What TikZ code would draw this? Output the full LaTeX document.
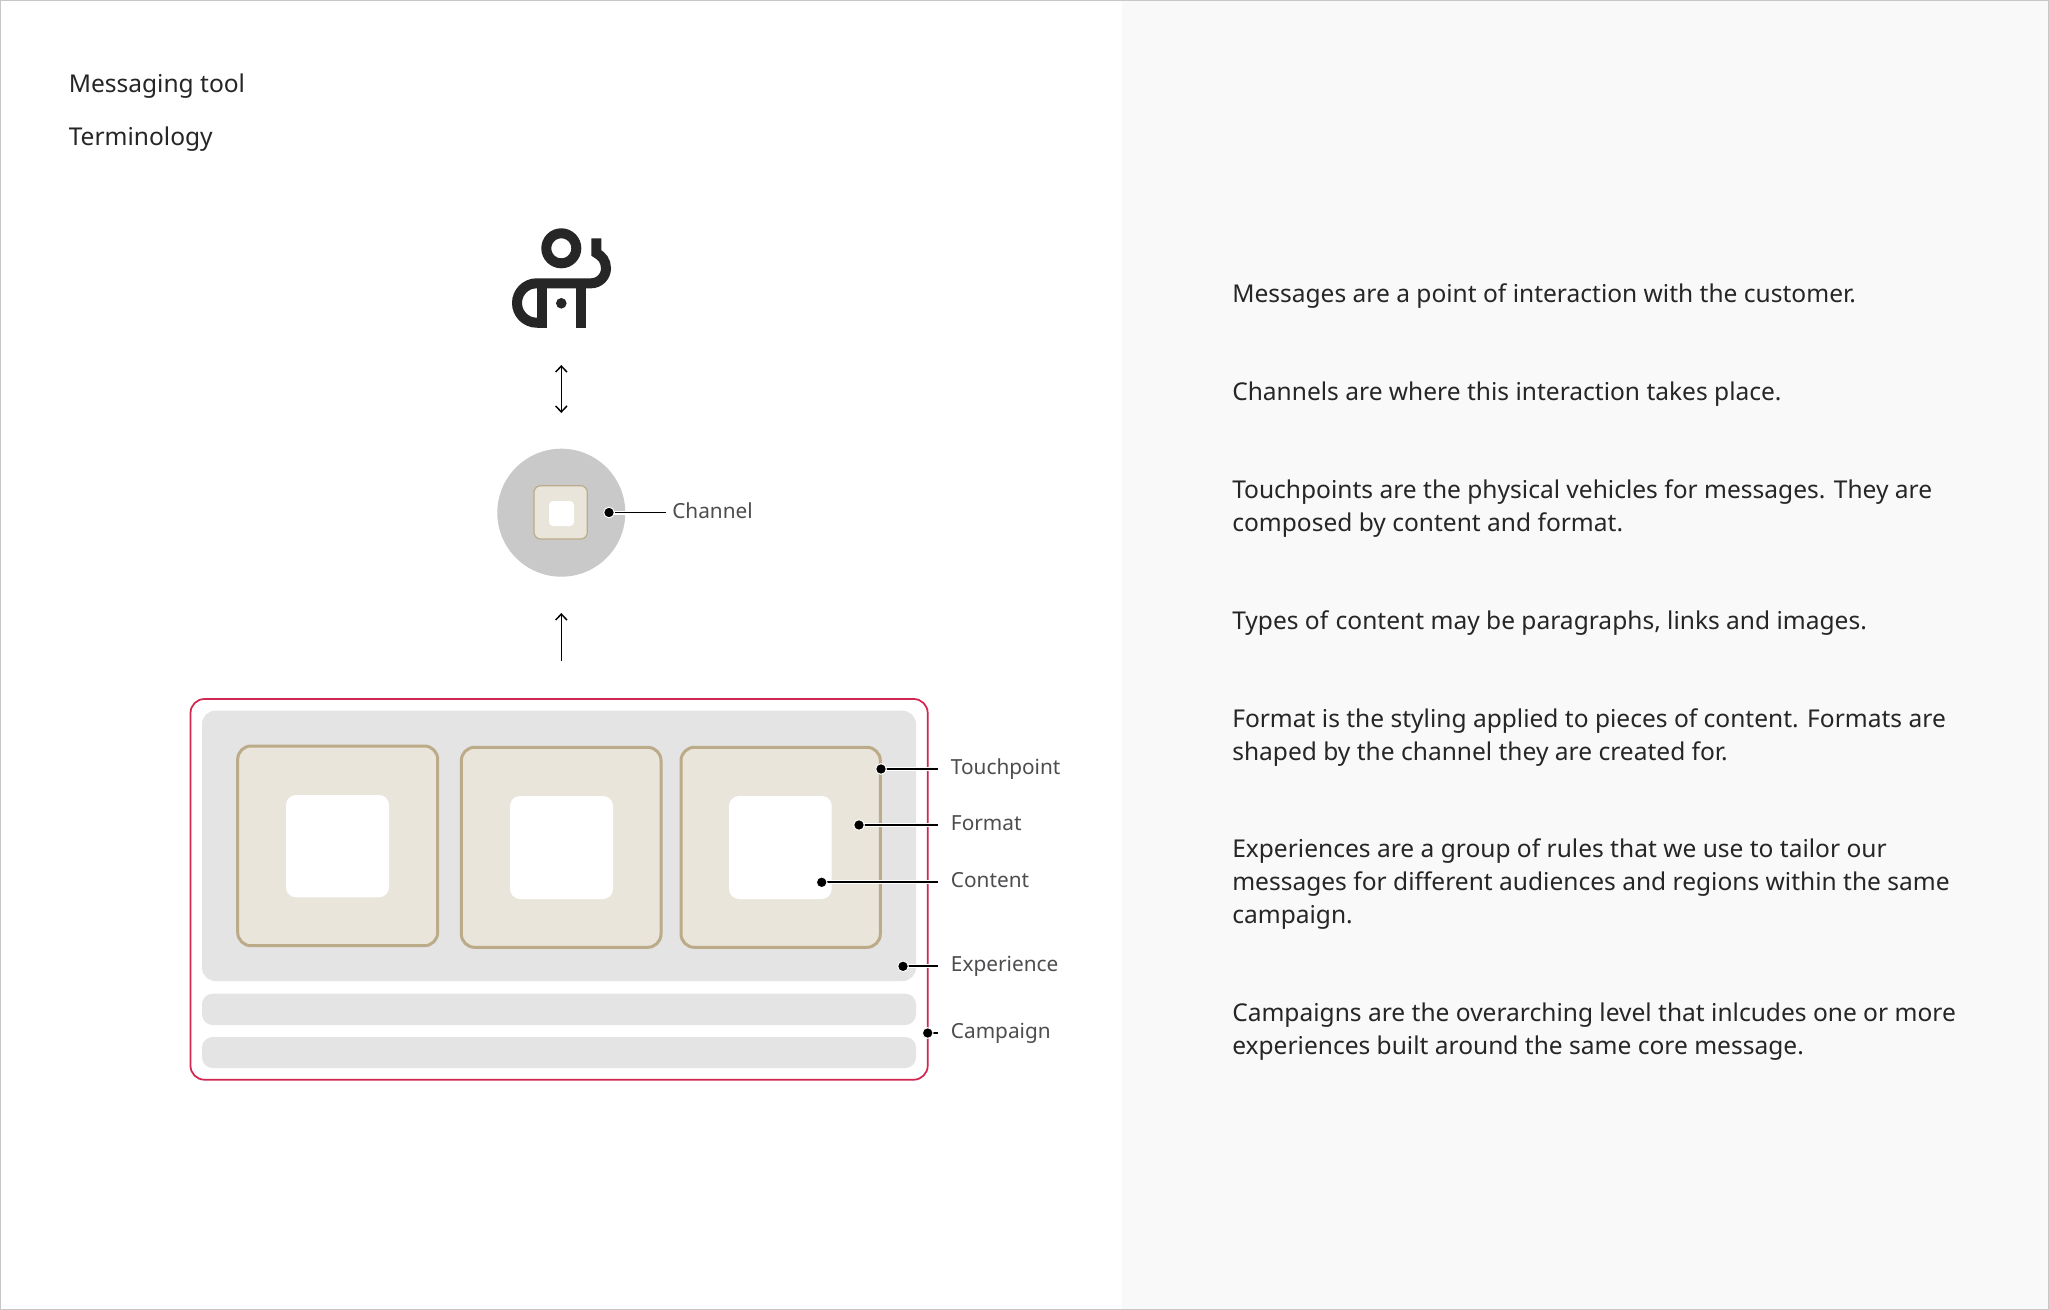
\documentclass[tikz,border=0pt]{standalone}
\usepackage{fontspec}
\setmainfont{Noto Sans}
\usetikzlibrary{arrows.meta}
\definecolor{ink}{HTML}{262626}
\definecolor{lab}{HTML}{4D4D50}
\definecolor{panel}{HTML}{F9F9F9}
\definecolor{expg}{HTML}{E4E4E5}
\definecolor{chang}{HTML}{C9C9C9}
\definecolor{tan}{HTML}{BCAB88}
\definecolor{beige}{HTML}{E9E5DB}
\definecolor{crim}{HTML}{D0264F}
\tikzset{
 x=0.75pt,y=-0.75pt,
 tpbox/.style={draw=tan,fill=beige,line width=2.25pt,rounded corners=10pt},
 contentbox/.style={fill=white,rounded corners=7.5pt},
 expbox/.style={fill=expg,rounded corners=10pt},
 lead/.style={draw=white,line width=3pt},
 leadb/.style={draw=black,line width=1.3pt},
 dothalo/.style={circle,fill=black,draw=white,line width=.75pt,minimum size=8pt,inner sep=0pt},
 calllabel/.style={anchor=base west,inner sep=0pt,font=\fontsize{15.6}{18}\selectfont\bfseries,text=lab},
 bodytext/.style={anchor=base west,inner sep=0pt,font=\fontsize{18.4}{24}\selectfont,text=ink},
 arr/.style={draw=black,line width=1.1pt},
 icon/.style={draw=ink,line width=7.5pt},
}
\newcommand{\rbox}[5][]{\path[#1] (#2,#3) rectangle (#4,#5);}
\begin{document}
\begin{tikzpicture}
\useasboundingbox (0,0) rectangle (2049,1310);
\fill[white] (0,0) rectangle (2049,1310);
\fill[panel] (1122,0) rectangle (2049,1310);
\draw[draw=black!22,line width=.75pt] (.5,.5) rectangle (2048.5,1309.5);
% header
\node[anchor=base west,inner sep=0pt,font=\fontsize{18.4}{24}\selectfont\bfseries,text=ink] (title) at (68.5,92) {Messaging tool};
\node[anchor=base west,inner sep=0pt,font=\fontsize{18.4}{24}\selectfont,text=ink] (sub) at (68.5,145) {Terminology};
% icon
\draw[icon] (561.3,248.3) circle[radius=15];
\draw[icon,line cap=butt] (596.3,238.3) -- (596.3,253) .. controls (602,256) and (606,261) .. (606,268.3) arc[start angle=0,end angle=90,radius=15] -- (536.7,283.3) arc[start angle=270,end angle=90,radius=19.7] -- (546.7,322.7);
\draw[icon] (541.7,283.3) -- (541.7,327.7);
\draw[icon] (581.3,283.3) -- (581.3,327.7);
\fill[ink] (561.3,303.3) circle[radius=5.3];
% arrows
\coordinate (a1) at (561.3,365);\coordinate (a2) at (561.3,413);
\draw[arr,{Straight Barb[length=4.5pt,width=8.5pt]}-{Straight Barb[length=4.5pt,width=8.5pt]}] (a1) -- (a2);
% channel
\node[circle,fill=chang,minimum size=96pt,inner sep=0pt] (chan) at (561.3,512.7) {};
\path[draw=tan,fill=beige,line width=.9pt,rounded corners=5pt] (534,485.7) rectangle (587.3,539);
\path[contentbox,rounded corners=3pt] (549,501) rectangle (574,526);
\coordinate (a3) at (561.3,661);\coordinate (a4) at (561.3,613);
\draw[arr,-{Straight Barb[length=4.5pt,width=8.5pt]}] (a3) -- (a4);
% campaign
\draw[draw=crim,line width=1.3pt,rounded corners=10.5pt] (190.5,699) rectangle (927.7,1079.7);
\path[expbox] (202,710.7) rectangle (916,981);
\path[expbox,rounded corners=8pt] (202,993.7) rectangle (916,1025);
\path[expbox,rounded corners=8pt] (202,1037) rectangle (916,1068);
\path[tpbox] (237.7,746) rectangle (437.7,945.7);
\path[contentbox] (286,795) rectangle (389,897.3);
\path[tpbox] (461.3,747.3) rectangle (661,947.3);
\path[contentbox] (510,796) rectangle (613,899);
\path[tpbox] (681,747.3) rectangle (880.3,947.3);
\path[contentbox] (729,796) rectangle (831.7,899);
% callouts
\newcommand{\callout}[6]{%
 \coordinate (#1s) at (#2,#3);\coordinate (#1e) at (#4,#3);
 \draw[lead] (#1s) -- (#1e);
 \draw[leadb] (#1s) -- (#1e);
 \node[dothalo] (#1d) at (#1s) {};
 \node[calllabel] (#1l) at (#5,#3+5.6) {#6};}
\callout{ch}{609}{512.5}{665.7}{672}{Channel}
\callout{tp}{881}{769}{937.7}{950.7}{Touchpoint}
\callout{fm}{859}{825}{937.7}{950.7}{Format}
\callout{ct}{821.7}{882.3}{937.7}{950.7}{Content}
\callout{ex}{903}{966.3}{937.7}{950.7}{Experience}
\callout{cp}{927.7}{1033}{937.7}{950.7}{Campaign}
% body
\node[bodytext] (m) at (1232,302) {\textbf{Messages} are a point of interaction with the customer.};
\node[bodytext] (c) at (1232,400) {\textbf{Channels} are where this interaction takes place.};
\node[bodytext] (t1) at (1232,498) {\textbf{Touchpoints} are the physical vehicles for messages. They are};
\node[bodytext] (t2) at (1232,531) {composed by content and format.};
\node[bodytext] (ty) at (1232,629) {Types of \textbf{content} may be paragraphs, links and images.};
\node[bodytext] (f1) at (1232,727) {\textbf{Format} is the styling applied to pieces of content. Formats are};
\node[bodytext] (f2) at (1232,760) {shaped by the channel they are created for.};
\node[bodytext] (e1) at (1232,857) {\textbf{Experiences} are a group of rules that we use to tailor our};
\node[bodytext] (e2) at (1232,890) {messages for different audiences and regions within the same};
\node[bodytext] (e3) at (1232,923) {campaign.};
\node[bodytext] (p1) at (1232,1021) {\textbf{Campaigns} are the overarching level that inlcudes one or more};
\node[bodytext] (p2) at (1232,1054) {experiences built around the same core message.};
\end{tikzpicture}
\end{document}
